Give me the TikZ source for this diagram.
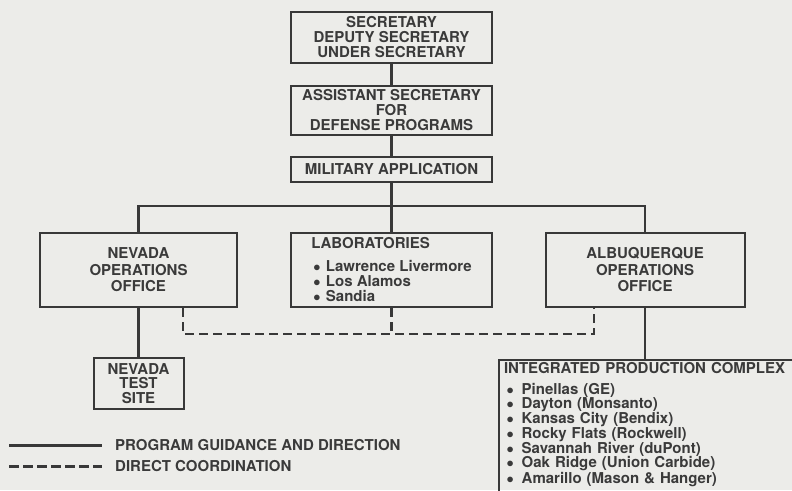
\documentclass[tikz,border=0pt]{standalone}
\usepackage{fontspec}
\setmainfont{TeX Gyre Heros}
\usepackage{tikz}
\usetikzlibrary{positioning}
\definecolor{paper}{RGB}{236,236,233}
\definecolor{ink}{RGB}{56,56,56}
\definecolor{print}{RGB}{58,58,58}

\begin{document}
\begin{tikzpicture}[x=1pt,y=-1pt,line join=miter,
org node/.style={draw=ink,line width=2pt,text=print,inner sep=0pt,align=center,font=\fontsize{15}{15}\selectfont\bfseries},
office node/.style={org node,minimum width=199pt,minimum height=74pt,font=\fontsize{15}{16.5}\selectfont\bfseries},
guide/.style={draw=ink,line width=2.6pt},
coord line/.style={draw=ink,line width=2.6pt,dash pattern=on 9pt off 5pt},
key/.style={text=print,inner sep=0pt,anchor=west,font=\fontsize{15}{15}\selectfont\bfseries}]
\useasboundingbox (0,0) rectangle (792,490);
\fill[paper] (0,0) rectangle (792,490);
\clip (0,0) rectangle (792,490);

\node[org node,minimum width=201pt,minimum height=51pt] (sec) at (391.5,37.5) {SECRETARY\\DEPUTY SECRETARY\\UNDER SECRETARY};
\node[org node,minimum width=201pt,minimum height=49pt] (asst) at (391.5,110.5) {ASSISTANT SECRETARY\\FOR\\DEFENSE PROGRAMS};
\node[org node,minimum width=201pt,minimum height=25pt] (mil) at (391.5,169.5) {MILITARY APPLICATION};
\node[office node,minimum width=197pt] (nev) at (138.5,270) {NEVADA\\OPERATIONS\\OFFICE};
\node[office node,minimum width=201pt,align=left,font=\fontsize{15}{15}\selectfont\bfseries] (labs) at (391.5,270) {LABORATORIES\\[8pt]
\hspace*{2pt}$\bullet$\hspace{5.5pt}Lawrence Livermore\\
\hspace*{2pt}$\bullet$\hspace{5.5pt}Los Alamos\\
\hspace*{2pt}$\bullet$\hspace{5.5pt}Sandia};
\node[office node] (alb) at (645,270) {ALBUQUERQUE\\OPERATIONS\\OFFICE};
\node[org node,minimum width=90pt,minimum height=51pt,font=\fontsize{15}{14.5}\selectfont\bfseries] (nts) at (138.5,383.5) {NEVADA\\TEST\\SITE};
\node[org node,anchor=north west,align=left,text width=300pt,inner xsep=5pt,inner ysep=2pt,font=\fontsize{15}{14.3}\selectfont\bfseries] (ipc) at (498,359) {INTEGRATED PRODUCTION COMPLEX\\[6.7pt]
\hspace*{2.5pt}$\bullet$\hspace{8pt}Pinellas (GE)\\
\hspace*{2.5pt}$\bullet$\hspace{8pt}Dayton (Monsanto)\\
\hspace*{2.5pt}$\bullet$\hspace{8pt}Kansas City (Bendix)\\
\hspace*{2.5pt}$\bullet$\hspace{8pt}Rocky Flats (Rockwell)\\
\hspace*{2.5pt}$\bullet$\hspace{8pt}Savannah River (duPont)\\
\hspace*{2.5pt}$\bullet$\hspace{8pt}Oak Ridge (Union Carbide)\\
\hspace*{2.5pt}$\bullet$\hspace{8pt}Amarillo (Mason \& Hanger)\rule[-20pt]{0pt}{20pt}};

\coordinate (bus) at (391.5,206);
\coordinate (tee) at ([yshift=-26pt]labs.south);
\draw[guide] (sec) -- (asst);
\draw[guide] (asst) -- (mil);
\draw[guide] (mil) -- (labs);
\draw[guide] (nev.north) |- (bus) -| (alb.north);
\draw[guide] (nev) -- (nts);
\draw[guide] (alb) -- (alb.south |- ipc.north);
\draw[coord line] ([xshift=44.5pt]nev.south) |- (tee) -| ([xshift=-51pt]alb.south);
\draw[coord line] (labs) -- (tee);

\node[key] (k1) at (115,445) {PROGRAM GUIDANCE AND DIRECTION};
\node[key] (k2) at (115,466) {DIRECT COORDINATION};
\coordinate (k1a) at (9,445);
\coordinate (k2a) at (9,466);
\draw[guide,line width=3pt] (k1a) -- ([xshift=-13pt]k1.west);
\draw[coord line,line width=3pt,dash pattern=on 10pt off 4pt] (k2a) -- ([xshift=-13pt]k2.west);
\end{tikzpicture}
\end{document}
